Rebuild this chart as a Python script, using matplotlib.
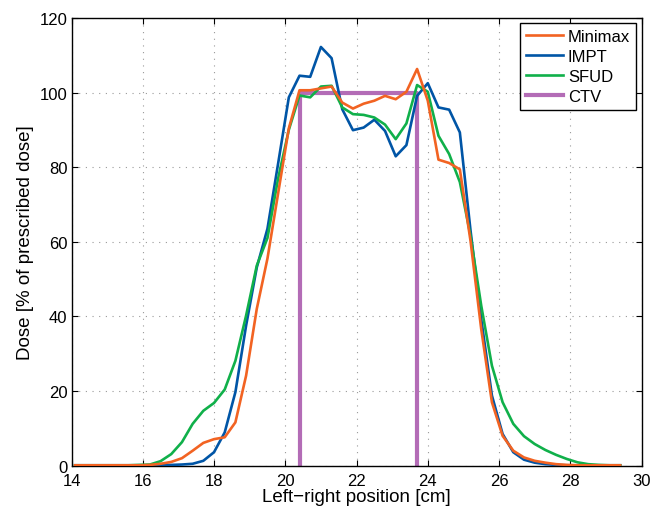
import matplotlib
matplotlib.use('Agg')
import matplotlib.pyplot as plt

plt.rcParams['font.family'] = ['Liberation Sans', 'DejaVu Sans']

# positions in cm (sampling grid of the dose profile)
pos = [14.1, 14.4, 14.7, 15.0, 15.3, 15.6, 15.9, 16.2, 16.5, 16.8,
       17.1, 17.4, 17.7, 18.0, 18.3, 18.6, 18.9, 19.2, 19.5, 19.8,
       20.1, 20.4, 20.7, 21.0, 21.3, 21.6, 21.9, 22.2, 22.5, 22.8,
       23.1, 23.4, 23.7, 24.0, 24.3, 24.6, 24.9, 25.2, 25.5, 25.8,
       26.1, 26.4, 26.7, 27.0, 27.3, 27.6, 27.9, 28.2, 28.5, 28.8,
       29.1, 29.4]

minimax = [0.1, 0.1, 0.1, 0.1, 0.1, 0.1, 0.1, 0.2, 0.5, 1.0,
           2.0, 4.0, 6.1, 7.1, 7.6, 11.6, 24.1, 42.0, 55.5, 73.0,
           90.4, 100.6, 100.6, 101.1, 101.6, 97.3, 95.7, 97.0, 97.8, 99.1,
           98.2, 100.2, 106.3, 97.8, 82.0, 81.1, 79.4, 60.2, 36.6, 17.0,
           8.0, 4.0, 2.2, 1.3, 0.8, 0.4, 0.2, 0.1, 0.1, 0.1,
           0.1, 0.1]

impt = [0.1, 0.1, 0.1, 0.1, 0.1, 0.1, 0.1, 0.1, 0.2, 0.2,
        0.3, 0.5, 1.3, 3.6, 8.9, 19.7, 37.5, 53.1, 63.5, 81.0,
        98.7, 104.5, 104.2, 112.2, 109.2, 95.5, 89.9, 90.6, 92.7, 89.7,
        82.9, 85.9, 99.1, 102.5, 96.0, 95.4, 89.3, 63.0, 39.3, 18.8,
        8.5, 3.6, 1.6, 0.8, 0.4, 0.2, 0.1, 0.1, 0.1, 0.1,
        0.1, 0.1]

sfud = [0.1, 0.1, 0.1, 0.1, 0.1, 0.1, 0.2, 0.3, 1.2, 3.1,
        6.3, 11.2, 14.7, 16.8, 20.4, 28.1, 40.2, 53.6, 61.0, 77.0,
        90.0, 99.2, 98.7, 101.6, 101.8, 96.0, 94.2, 94.0, 93.3, 91.4,
        87.5, 91.7, 102.0, 100.2, 88.4, 83.5, 76.0, 61.6, 42.9, 26.8,
        17.0, 11.2, 7.9, 5.8, 4.2, 2.9, 1.8, 0.9, 0.4, 0.2,
        0.1, 0.1]

ctv_x = [20.4, 20.4, 23.7, 23.7]
ctv_y = [0, 100, 100, 0]

fig = plt.figure(figsize=(6.5, 5.1), dpi=100)
ax = fig.add_axes([0.110, 0.085, 0.877, 0.878])

ax.plot(pos, minimax, color='#F26322', lw=1.9, label='Minimax', zorder=4)
ax.plot(pos, impt, color='#0055A6', lw=1.9, label='IMPT', zorder=3)
ax.plot(pos, sfud, color='#10B04A', lw=1.9, label='SFUD', zorder=3)
ax.plot(ctv_x, ctv_y, color='#B36CB6', lw=3.0, label='CTV', zorder=2)

ax.set_xlim(14, 30)
ax.set_ylim(0, 120)
ax.set_xticks(range(14, 31, 2))
ax.set_yticks(range(0, 121, 20))
ax.tick_params(direction='in', top=True, right=True, labelsize=12, length=4)
ax.tick_params(axis='x', pad=5)
ax.tick_params(axis='y', pad=3)
ax.grid(True, color='#999999', lw=0.8, dashes=(1, 5))
for sp in ax.spines.values():
    sp.set_linewidth(1.0)

ax.set_xlabel('Left\u2212right position [cm]', fontsize=13.5, labelpad=0)
ax.set_ylabel('Dose [% of prescribed dose]', fontsize=13.5, labelpad=4)

leg = ax.legend(loc='upper right', fontsize=12, fancybox=False, framealpha=1,
                edgecolor='black', handlelength=2.2, borderaxespad=0.33,
                labelspacing=0.3, handletextpad=0.3, borderpad=0.35)
leg.get_frame().set_linewidth(1.0)

fig.savefig('out.png', dpi=100)
